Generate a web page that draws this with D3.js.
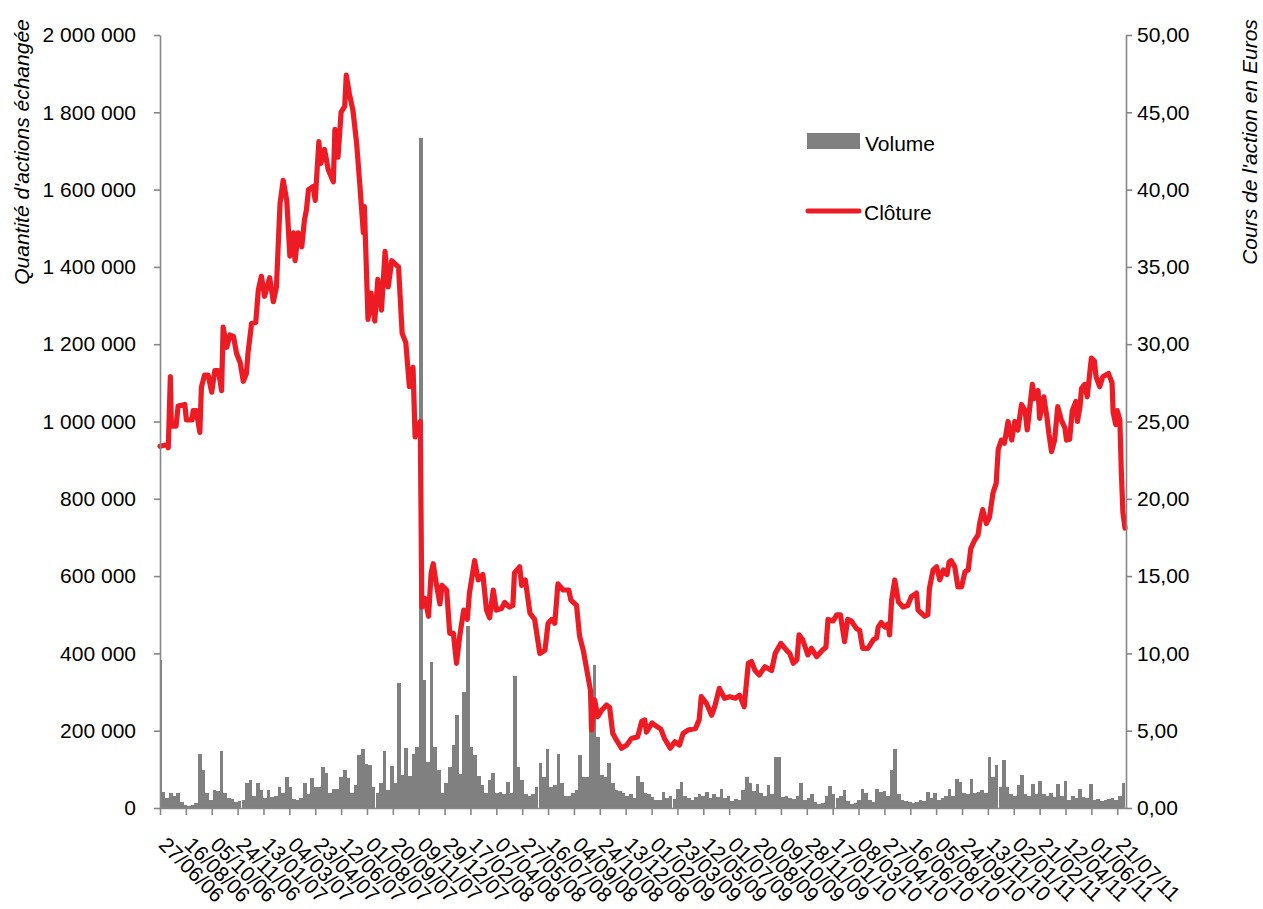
<!DOCTYPE html>
<html>
<head>
<meta charset="utf-8">
<script src="https://cdn.jsdelivr.net/npm/d3@7"></script>
<style>
  html, body { margin: 0; padding: 0; background: #ffffff; }
  svg { display: block; }
  text { font-family: "Liberation Sans", Arial, sans-serif; fill: #000; }
</style>
</head>
<body>
<svg id="chart" width="1263" height="909"></svg>
<script>
// ---------- DATA ----------
const xTickLabels = ["27/06/06","16/08/06","05/10/06","24/11/06","13/01/07","04/03/07","23/04/07","12/06/07",
  "01/08/07","20/09/07","09/11/07","29/12/07","17/02/08","07/04/08","27/05/08","16/07/08","04/09/08",
  "24/10/08","13/12/08","01/02/09","23/03/09","12/05/09","01/07/09","20/08/09","09/10/09","28/11/09",
  "17/01/10","08/03/10","27/04/10","16/06/10","05/08/10","24/09/10","13/11/10","02/01/11","21/02/11",
  "12/04/11","01/06/11","21/07/11"];

const volumeTicks = [0, 200000, 400000, 600000, 800000, 1000000, 1200000, 1400000, 1600000, 1800000, 2000000];
const priceTicks = [0, 5, 10, 15, 20, 25, 30, 35, 40, 45, 50];

const closeDates = [
"2006-06-27","2006-07-10","2006-07-13","2006-07-17","2006-07-19","2006-07-28","2006-08-01","2006-08-14","2006-08-17","2006-08-28",
"2006-08-30","2006-09-05","2006-09-12","2006-09-15","2006-09-21","2006-09-28","2006-10-05","2006-10-11","2006-10-18","2006-10-24",
"2006-10-27","2006-11-03","2006-11-09","2006-11-16","2006-11-22","2006-11-29","2006-12-05","2006-12-11","2006-12-14","2006-12-21",
"2006-12-29","2007-01-03","2007-01-09","2007-01-15","2007-01-25","2007-02-01","2007-02-07","2007-02-14","2007-02-20","2007-02-27",
"2007-03-05","2007-03-12","2007-03-15","2007-03-21","2007-03-28","2007-04-02","2007-04-06","2007-04-10","2007-04-19","2007-04-23",
"2007-04-30","2007-05-04","2007-05-11","2007-05-18","2007-05-28","2007-05-31","2007-06-06","2007-06-12","2007-06-19","2007-06-22",
"2007-06-28","2007-07-05","2007-07-12","2007-07-18","2007-07-25","2007-07-27","2007-08-03","2007-08-09","2007-08-16","2007-08-22",
"2007-08-29","2007-09-05","2007-09-11","2007-09-18","2007-09-24","2007-10-01","2007-10-08","2007-10-15","2007-10-22","2007-10-29",
"2007-11-02","2007-11-08","2007-11-12","2007-11-15","2007-11-21","2007-11-28","2007-12-03","2007-12-07","2007-12-13","2007-12-20",
"2007-12-24","2008-01-02","2008-01-08","2008-01-15","2008-01-21","2008-01-28","2008-02-04","2008-02-11","2008-02-15","2008-02-25",
"2008-03-03","2008-03-12","2008-03-19","2008-03-25","2008-04-01","2008-04-07","2008-04-17","2008-04-23","2008-05-02","2008-05-09",
"2008-05-12","2008-05-22","2008-05-26","2008-06-02","2008-06-11","2008-06-20","2008-06-30","2008-07-10","2008-07-16","2008-07-23",
"2008-07-29","2008-08-04","2008-08-14","2008-08-25","2008-08-29","2008-09-09","2008-09-15","2008-09-22","2008-09-29","2008-10-06",
"2008-10-08","2008-10-14","2008-10-20","2008-10-27","2008-11-06","2008-11-12","2008-11-18","2008-11-25","2008-12-05","2008-12-15",
"2008-12-24","2009-01-05","2009-01-13","2009-01-19","2009-01-22","2009-02-02","2009-02-10","2009-02-19","2009-02-26","2009-03-09",
"2009-03-18","2009-03-27","2009-04-03","2009-04-13","2009-04-27","2009-05-04","2009-05-08","2009-05-18","2009-05-28","2009-06-03",
"2009-06-12","2009-06-22","2009-07-02","2009-07-13","2009-07-21","2009-07-30","2009-08-07","2009-08-13","2009-08-20","2009-08-28",
"2009-09-08","2009-09-21","2009-09-28","2009-10-09","2009-10-20","2009-10-26","2009-11-02","2009-11-09","2009-11-13","2009-11-20",
"2009-11-30","2009-12-07","2009-12-17","2009-12-28","2010-01-04","2010-01-08","2010-01-18","2010-01-25","2010-02-01","2010-02-09",
"2010-02-15","2010-02-22","2010-03-04","2010-03-10","2010-03-16","2010-03-26","2010-04-06","2010-04-12","2010-04-15","2010-04-21",
"2010-04-28","2010-05-04","2010-05-07","2010-05-11","2010-05-17","2010-05-24","2010-06-02","2010-06-11","2010-06-18","2010-06-28",
"2010-07-01","2010-07-14","2010-07-20","2010-07-23","2010-07-30","2010-08-06","2010-08-12","2010-08-19","2010-08-26","2010-08-30",
"2010-09-03","2010-09-10","2010-09-16","2010-09-23","2010-09-30","2010-10-06","2010-10-11","2010-10-18","2010-10-25","2010-10-28",
"2010-11-03","2010-11-10","2010-11-16","2010-11-23","2010-11-29","2010-12-03","2010-12-09","2010-12-15","2010-12-22","2010-12-29",
"2011-01-04","2011-01-10","2011-01-17","2011-01-24","2011-01-28","2011-02-07","2011-02-11","2011-02-18","2011-02-21","2011-03-01",
"2011-03-07","2011-03-11","2011-03-16","2011-03-22","2011-03-28","2011-04-04","2011-04-11","2011-04-14","2011-04-20","2011-04-25",
"2011-05-02","2011-05-05","2011-05-10","2011-05-13","2011-05-19","2011-05-24","2011-06-01","2011-06-07","2011-06-10","2011-06-17",
"2011-06-23","2011-07-04","2011-07-11","2011-07-13","2011-07-18","2011-07-21","2011-07-26","2011-07-29","2011-08-01","2011-08-05"
];

const closeValues = [
23.4,23.5,23.3,27.9,24.7,24.7,26.0,26.1,25.1,25.1,
25.7,25.7,24.3,27.2,28.0,28.0,26.9,28.3,28.3,27.0,
31.1,29.8,30.6,30.5,29.4,28.8,27.6,28.1,29.4,31.35,
31.4,33.5,34.4,33.1,34.3,32.75,33.7,39.1,40.6,39.3,
35.7,37.2,35.4,37.2,36.3,38.0,38.7,40.0,40.2,39.3,
43.1,41.7,42.6,41.3,40.5,43.9,42.1,45.0,45.4,47.4,
46.2,45.1,43.0,40.4,37.2,38.9,31.6,33.3,31.5,34.2,
32.2,36.0,33.7,35.4,35.2,35.0,30.7,30.1,27.25,28.5,
24.0,24.7,25.0,13.0,13.56,12.4,15.2,15.8,14.5,13.2,
14.4,14.1,11.3,11.3,9.36,11.3,12.8,12.2,13.9,16.0,
14.75,15.1,12.8,12.3,14.1,12.8,12.9,13.3,13.0,13.1,
15.2,15.6,14.4,14.75,12.6,12.2,10.0,10.2,11.95,12.2,
11.95,14.5,14.1,14.1,13.45,13.1,11.1,10.2,8.9,7.6,
5.05,7.0,5.9,6.3,6.66,6.5,4.83,4.4,3.86,4.07,
4.5,4.6,5.6,5.7,4.9,5.5,5.3,5.1,4.5,3.86,
4.29,4.07,4.83,5.05,5.15,5.7,7.2,6.77,6.0,6.55,
7.74,7.1,7.2,7.1,7.3,6.55,9.36,9.47,8.9,8.6,
9.14,8.9,10.0,10.65,10.2,10.0,9.36,9.6,11.2,10.9,
9.9,10.33,9.79,10.2,10.4,12.2,12.1,12.5,12.5,10.76,
12.2,12.1,11.6,11.5,10.33,10.33,10.9,11.0,11.7,12.0,
11.7,11.9,11.2,13.45,14.75,13.34,13.0,13.1,13.67,13.9,
12.8,12.4,12.5,14.2,15.4,15.6,14.75,15.4,15.1,15.9,
16.0,15.6,14.3,14.3,15.3,15.4,16.8,17.3,17.66,18.4,
19.3,18.4,18.8,20.4,21.0,23.2,23.8,23.6,25.0,23.8,
25.0,24.45,26.1,25.7,24.45,27.4,26.5,27.0,25.2,26.6,
25.3,24.2,23.05,23.8,25.96,25.1,24.56,23.8,23.85,25.7,
26.3,25.0,25.96,27.15,27.4,26.6,29.1,28.9,27.9,27.25,
27.9,28.1,27.5,25.6,24.8,25.7,25.1,21.65,19.1,18.1
];

// weekly volume readings, first week starting 27/06/06
const volumeFirstWeek = "2006-06-27";
const volumeValues = [
383000,42000,25000,40000,32000,40000,15000,8000,6000,9000,
12000,141000,98000,40000,20000,47000,45000,148000,40000,25000,
22000,15000,18000,20000,64000,72000,30000,64000,47000,25000,
47000,28000,30000,55000,40000,81000,55000,22000,20000,25000,
64000,35000,77000,55000,55000,107000,91000,40000,50000,48000,
81000,98000,77000,40000,60000,137000,153000,114000,111000,55000,
40000,64000,148000,47000,109000,64000,323000,86000,154000,84000,
141000,159000,1733000,331000,120000,378000,159000,98000,40000,64000,
107000,162000,241000,89000,301000,470000,159000,137000,84000,60000,
40000,72000,91000,40000,42000,35000,68000,40000,341000,107000,
72000,35000,30000,35000,55000,116000,81000,153000,55000,60000,
139000,64000,30000,32000,40000,47000,137000,81000,81000,202000,
370000,184000,86000,81000,116000,64000,47000,45000,40000,30000,
35000,25000,83000,66000,40000,35000,28000,20000,20000,42000,
25000,30000,22000,50000,68000,30000,25000,20000,28000,35000,
30000,42000,25000,35000,28000,50000,25000,30000,18000,22000,
20000,47000,81000,64000,45000,62000,40000,30000,60000,35000,
133000,131000,28000,30000,25000,22000,30000,64000,20000,25000,
35000,15000,10000,12000,30000,57000,35000,25000,30000,47000,
18000,10000,12000,20000,50000,40000,20000,15000,50000,42000,
45000,30000,98000,152000,35000,20000,18000,15000,12000,15000,
20000,18000,42000,25000,40000,20000,25000,30000,50000,30000,
76000,68000,40000,35000,74000,40000,42000,47000,40000,133000,
81000,111000,55000,124000,55000,35000,30000,60000,85000,35000,
30000,62000,35000,70000,35000,30000,40000,28000,62000,30000,
69000,20000,30000,25000,50000,28000,25000,62000,20000,22000,
18000,20000,22000,25000,20000,30000,64000
];

// ---------- CHART ----------
(function () {
const svg = d3.select("#chart");
const parseISO = d3.timeParse("%Y-%m-%d");
const parseLabel = d3.timeParse("%d/%m/%y");

const pL = 160, pR = 1126, pT = 35, pB = 808;

const x = d3.scaleTime()
  .domain([parseISO("2006-06-27"), parseISO("2011-08-05")])
  .range([pL, pR - 1]);
const yVol = d3.scaleLinear().domain([0, 2000000]).range([pB, pT]);
const yPrice = d3.scaleLinear().domain([0, 50]).range([pB, pT]);

const axisColor = "#868686";
const fontSize = 21;

// volume bars
const firstWeek = parseISO(volumeFirstWeek);
const volData = volumeValues.map((v, i) => ({ date: d3.timeDay.offset(firstWeek, 7 * i), v }));
const barW = 3.6;
svg.append("g").attr("shape-rendering", "crispEdges").selectAll("rect").data(volData).join("rect")
  .attr("x", d => Math.max(pL, x(d.date) - barW / 2))
  .attr("width", d => Math.min(barW, x(d.date) + barW / 2 - pL))
  .attr("y", d => yVol(d.v))
  .attr("height", d => pB - yVol(d.v))
  .attr("fill", "#808080");

// closing price line
const closeData = closeDates.map((d, i) => ({ date: parseISO(d), v: closeValues[i] }));
svg.append("path")
  .datum(closeData)
  .attr("fill", "none")
  .attr("stroke", "#ED1C24")
  .attr("stroke-width", 5.2)
  .attr("stroke-linejoin", "round")
  .attr("stroke-linecap", "round")
  .attr("d", d3.line().x(d => x(d.date)).y(d => yPrice(d.v)));

// left axis
const fmtVol = v => d3.format(",")(v).replace(/,/g, " ");
const gL = svg.append("g").attr("transform", `translate(${pL},0)`)
  .call(d3.axisLeft(yVol).tickValues(volumeTicks).tickFormat(fmtVol).tickSize(6).tickSizeOuter(0).tickPadding(18));
// right axis
const fmtPrice = v => d3.format(".2f")(v).replace(".", ",");
const gR = svg.append("g").attr("transform", `translate(${pR},0)`)
  .call(d3.axisRight(yPrice).tickValues(priceTicks).tickFormat(fmtPrice).tickSize(6).tickSizeOuter(0).tickPadding(5));
// bottom axis
const xTickDates = xTickLabels.map(parseLabel);
const gB = svg.append("g").attr("transform", `translate(0,${pB})`)
  .call(d3.axisBottom(x).tickValues(xTickDates).tickFormat(d3.timeFormat("%d/%m/%y")).tickSize(7).tickSizeOuter(0));
gB.select(".domain").attr("d", `M${pL},0.5H${pR}`);
gB.selectAll(".tick text")
  .attr("x", 0).attr("y", 0).attr("dy", 0)
  .attr("text-anchor", "start")
  .attr("transform", "translate(-3,38) rotate(45)");

[gL, gR, gB].forEach(g => {
  g.selectAll(".domain").attr("stroke", axisColor).attr("stroke-width", 1.6);
  g.selectAll(".tick line").attr("stroke", axisColor).attr("stroke-width", 1.6);
  g.selectAll(".tick text").attr("font-family", "Liberation Sans, Arial, sans-serif")
    .attr("font-size", fontSize).attr("fill", "#000");
});

// axis titles
svg.append("text")
  .attr("transform", "translate(29,152) rotate(-90)")
  .attr("text-anchor", "middle")
  .attr("font-size", fontSize).attr("font-style", "italic")
  .text("Quantité d'actions échangée");
svg.append("text")
  .attr("transform", "translate(1257,142) rotate(-90)")
  .attr("text-anchor", "middle")
  .attr("font-size", fontSize).attr("font-style", "italic")
  .text("Cours de l'action en Euros");

// legend
const legend = svg.append("g");
legend.append("rect").attr("x", 807).attr("y", 133).attr("width", 53).attr("height", 16).attr("fill", "#808080");
legend.append("text").attr("x", 865).attr("y", 151).attr("font-size", fontSize).text("Volume");
legend.append("line").attr("x1", 808).attr("x2", 859).attr("y1", 211).attr("y2", 211)
  .attr("stroke", "#ED1C24").attr("stroke-width", 5).attr("stroke-linecap", "round");
legend.append("text").attr("x", 864).attr("y", 220).attr("font-size", fontSize).text("Clôture");
})();
</script>
</body>
</html>
